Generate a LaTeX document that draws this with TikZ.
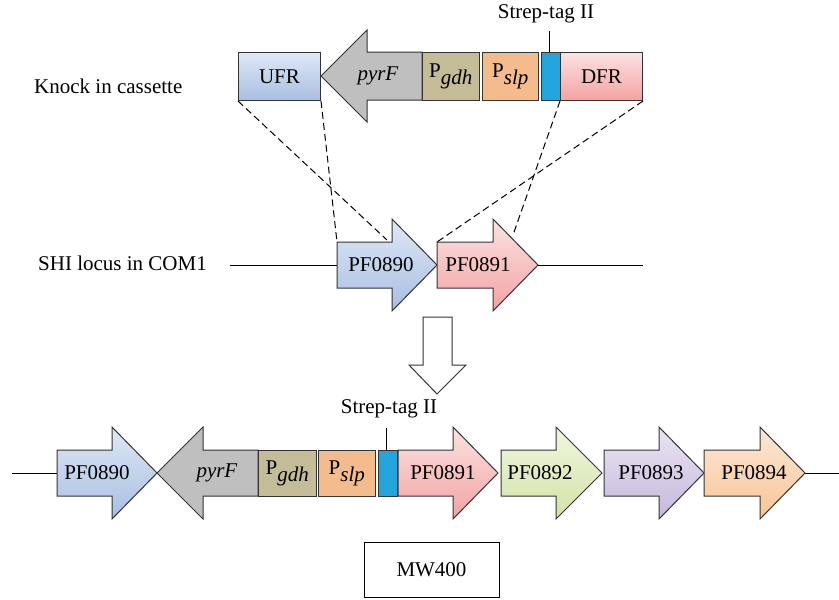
\documentclass[tikz,border=0pt]{standalone}
\usepackage{fontspec}
\setmainfont{Liberation Serif}
\definecolor{blT}{RGB}{222,232,246}
\definecolor{blB}{RGB}{168,190,226}
\definecolor{pkT}{RGB}{252,226,226}
\definecolor{pkB}{RGB}{244,162,162}
\definecolor{grT}{RGB}{240,246,224}
\definecolor{grB}{RGB}{210,226,166}
\definecolor{puT}{RGB}{234,228,242}
\definecolor{puB}{RGB}{198,184,220}
\definecolor{orT}{RGB}{253,232,214}
\definecolor{orB}{RGB}{248,196,150}
\definecolor{gryF}{RGB}{191,191,191}
\definecolor{gdhF}{RGB}{196,188,150}
\definecolor{slpF}{RGB}{244,188,140}
\definecolor{strF}{RGB}{34,164,220}
\newcommand\geneR[7]{% L, B, T, cy, half shaft, topcolor, bottomcolor
  \path[arr, top color=#6, bottom color=#7] (#1,#4-#5) -- (#2,#4-#5) -- (#2,#4-46) -- (#3,#4) -- (#2,#4+46) -- (#2,#4+#5) -- (#1,#4+#5) -- cycle;}
\newcommand\geneL[6]{% T, B, R, cy, half shaft, fill
  \path[arr, fill=#6] (#3,#4-#5) -- (#2,#4-#5) -- (#2,#4-46) -- (#1,#4) -- (#2,#4+46) -- (#2,#4+#5) -- (#3,#4+#5) -- cycle;}
\begin{document}
\begin{tikzpicture}[x=1pt,y=-1pt,font=\fontsize{21}{25}\selectfont,
  box/.style={draw=black!80, line width=1pt, inner sep=0pt, anchor=north west},
  arr/.style={draw=black!80, line width=1pt, line join=miter},
  dline/.style={draw=black, line width=1pt, dash pattern=on 7pt off 4pt},
  wire/.style={draw=black, line width=1pt}]
\useasboundingbox (0,0) rectangle (839,600);

% ---------- top row: knock in cassette ----------
\node[anchor=base west, inner sep=0pt] (lblKI) at (34,93) {Knock in cassette};
\node[box, top color=blT, bottom color=blB, minimum width=82pt, minimum height=48pt] (ufr) at (238,52) {UFR};
\geneL{321}{367}{422}{76}{24}{gryF}
\node (pyrTop) at (378,76) {\textit{pyrF}};
\node[box, fill=gdhF, minimum width=57pt, minimum height=48pt] (gdhTop) at (422,52) {P$_{\textit{gdh}}$};
\node[box, fill=slpF, minimum width=56pt, minimum height=48pt] (slpTop) at (482,52) {P$_{\textit{slp}}$};
\node[box, fill=strF, minimum width=19pt, minimum height=48pt] (strTop) at (541,52) {};
\node[box, top color=pkT, bottom color=pkB, minimum width=82pt, minimum height=48pt] (dfr) at (560,52) {DFR};
\node (strLblTop) at (546,14) {Strep-tag II};
\coordinate (strTickTop) at (549,31);
\draw[wire] (strTickTop) -- (strTop.north -| strTickTop);

% ---------- middle row: SHI locus ----------
\node[anchor=base west, inner sep=0pt] (lblSHI) at (38,270) {SHI locus in COM1};
\coordinate (wA) at (230,265);
\coordinate (wB) at (337,265);
\coordinate (wC) at (538,265);
\coordinate (wD) at (643,265);
\draw[wire] (wA) -- (wB);
\draw[wire] (wC) -- (wD);
\geneR{337}{392}{437}{265}{23}{blT}{blB}
\geneR{437}{493}{538}{265}{23}{pkT}{pkB}
\node (m890) at (381,265) {PF0890};
\node (m891) at (478,265) {PF0891};
\coordinate (e890a) at (387,240);
\coordinate (e890b) at (337,242);
\coordinate (e891a) at (513,235);
\coordinate (e891b) at (437,242);
\draw[dline] (ufr.south west) -- (e890a);
\draw[dline] (ufr.south east) -- (e890b);
\draw[dline] (dfr.south west) -- (e891a);
\draw[dline] (dfr.south east) -- (e891b);

% ---------- down arrow ----------
\path[arr, fill=white] (423,317) -- (452,317) -- (452,365) -- (466,365) -- (437,394) -- (409,365) -- (423,365) -- cycle;

% ---------- bottom row: MW400 ----------
\coordinate (bA) at (12,473);
\coordinate (bB) at (57,473);
\coordinate (bC) at (805,473);
\coordinate (bD) at (839,473);
\draw[wire] (bA) -- (bB);
\draw[wire] (bC) -- (bD);
\geneR{57}{112}{157}{473}{23}{blT}{blB}
\geneL{157}{203}{258}{473}{23}{gryF}
\node[box, fill=gdhF, minimum width=58pt, minimum height=46pt] (gdhBot) at (258,450) {P$_{\textit{gdh}}$};
\node[box, fill=slpF, minimum width=57pt, minimum height=46pt] (slpBot) at (318,450) {P$_{\textit{slp}}$};
\node[box, fill=strF, minimum width=19pt, minimum height=46pt] (strBot) at (378,450) {};
\geneR{398}{453}{498}{473}{23}{pkT}{pkB}
\geneR{501}{556}{602}{473}{23}{grT}{grB}
\geneR{604}{659}{704}{473}{23}{puT}{puB}
\geneR{704}{760}{805}{473}{23}{orT}{orB}
\node (b890) at (97,473) {PF0890};
\node (pyrBot) at (217,473) {\textit{pyrF}};
\node (b891) at (443,473) {PF0891};
\node (b892) at (540,473) {PF0892};
\node (b893) at (651,473) {PF0893};
\node (b894) at (754,473) {PF0894};
\node (strLblBot) at (389,409) {Strep-tag II};
\coordinate (strTickBot) at (386,428);
\draw[wire] (strTickBot) -- (strBot.north -| strTickBot);

\node[draw=black, line width=1pt, minimum width=135pt, minimum height=55pt, inner sep=0pt] (mw) at (431.5,569.5) {MW400};
\end{tikzpicture}
\end{document}
